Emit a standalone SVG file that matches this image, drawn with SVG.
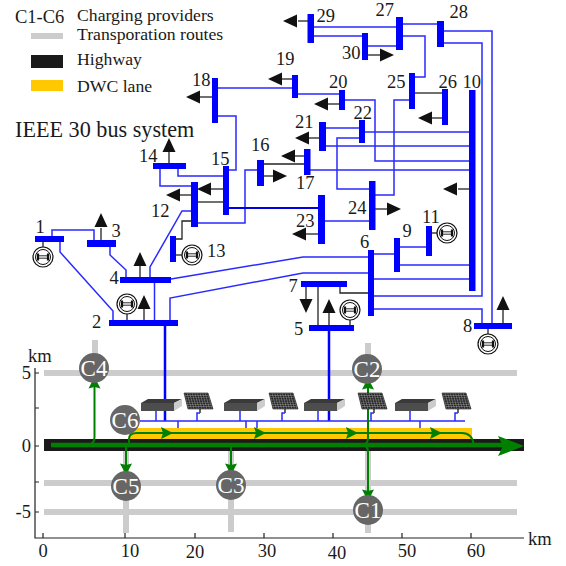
<svg xmlns="http://www.w3.org/2000/svg" width="566" height="566" viewBox="0 0 566 566">
<style>
text{font-family:"Liberation Serif","Times New Roman",serif;font-size:18.500px;fill:#1a1a1a}
.lg{font-size:17.700px}
.bus{fill:#0000ff}
.ln{fill:none;stroke:#2a2aff;stroke-width:1.5}
.dk{fill:none;stroke:#222;stroke-width:1.3}
.thk{fill:none;stroke:#0000e0;stroke-width:2.2}
.road{fill:#cccccc}
.grn{fill:none;stroke:#008000;stroke-width:2}
.gh{fill:#008000}
.ar{fill:#111}
.cc{fill:#666}
.cl{fill:#fff;font-size:23px;text-anchor:middle}
.ax{fill:none;stroke:#222;stroke-width:1.2}
.m{text-anchor:middle}
.e{text-anchor:end}
</style>
<defs>
<g id="gen">
<circle r="10" fill="#fff" stroke="#111" stroke-width="1.2"/>
<circle r="7.500" fill="none" stroke="#111" stroke-width="1"/>
<path d="M-5-3.500V3.500M5-3.500V3.500" stroke="#111" stroke-width="2.200" fill="none"/>
<path d="M-5-1.200H5M-5 1.200H5" stroke="#111" stroke-width="0.900" fill="none"/>
</g>
<path id="aL" class="ar" d="M0 0L14-6.500V6.500Z"/>
<path id="aR" class="ar" d="M0 0L-14-6.500V6.500Z"/>
<path id="aU" class="ar" d="M0 0L-6.500 14H6.500Z"/>
<path id="aD" class="ar" d="M0 0L-6.500-14H6.500Z"/>
<path id="gR" class="gh" d="M0 0L-12-6L-10 0L-12 6Z"/>
<path id="gU" class="gh" d="M0 0L-6 11.500L0 10L6 11.500Z"/>
<path id="gD" class="gh" d="M0 0L-6-11.500L0-10L6-11.500Z"/>
<pattern id="cell" width="2.600" height="2.200" patternUnits="userSpaceOnUse" patternTransform="skewX(15)">
<rect width="2.600" height="2.200" fill="#222"/>
<path d="M0 .3H2.600M.5 0V2.200" stroke="#999" stroke-width=".5"/>
</pattern>
<g id="box">
<path d="M0 4L7 0H41L33 4Z" fill="#3a3a3a"/>
<rect y="4" width="33" height="8" fill="#4d4d4d"/>
<path d="M33 4L41 0V7L33 12Z" fill="#cccccc"/>
</g>
<g id="pv">
<path d="M0 0H24L29 16H4Z" fill="url(#cell)" stroke="#111" stroke-width=".6"/>
<path d="M16 16V20" stroke="#111" stroke-width="1.300" fill="none"/>
<path d="M16 20H13V28" stroke="#2a2aff" stroke-width="1.500" fill="none"/>
</g>
</defs>

<g id="legend">
<text x="15" y="23">C1-C6</text>
<text x="77" y="21" class="lg">Charging providers</text>
<rect x="31" y="33" width="32" height="6" class="road"/>
<text x="77" y="40" class="lg">Transporation routes</text>
<rect x="31" y="55" width="32" height="13" fill="#1a1a1a"/>
<text x="77" y="65" class="lg">Highway</text>
<rect x="31" y="80" width="32" height="11" fill="#ffc800"/>
<text x="77" y="92" class="lg">DWC lane</text>
<text x="15" y="137" style="font-size:22.200px">IEEE 30 bus system</text>
</g>

<g id="roads">
<rect x="44" y="370" width="473" height="6" class="road"/>
<rect x="44" y="480" width="473" height="6" class="road"/>
<rect x="44" y="509" width="473" height="6" class="road"/>
<rect x="92" y="340" width="6" height="30" class="road"/>
<rect x="123" y="450" width="6" height="83" class="road"/>
<rect x="228" y="450" width="6" height="82" class="road"/>
<rect x="365" y="343" width="6" height="30" class="road"/>
<rect x="365" y="450" width="6" height="83" class="road"/>
<rect x="44" y="439" width="480" height="12" fill="#1a1a1a"/>
<rect x="129" y="428" width="343" height="11" fill="#ffc800"/>
</g>

<g id="axes">
<path class="ax" d="M35 368V538H524"/>
<path class="ax" d="M35 373H39M35 408H39M35 446H39M35 482H39M35 512H39M43 533V538M125 533V538M195 533V538M264 533V538M333 533V538M402 533V538M471 533V538"/>
<text x="28" y="362">km</text>
<text x="31" y="379" class="e">5</text>
<text x="31" y="452" class="e">0</text>
<text x="31" y="518" class="e">-5</text>
<text x="43" y="557" class="m">0</text>
<text x="130" y="557" class="m">10</text>
<text x="195" y="558" class="m">20</text>
<text x="267" y="557" class="m">30</text>
<text x="337" y="559" class="m">40</text>
<text x="407" y="557" class="m">50</text>
<text x="476" y="557" class="m">60</text>
<text x="528" y="545">km</text>
</g>

<g id="connectors">
<path class="ln" d="M52 236V230H94V240"/>
<path class="ln" d="M60 242V252L113 311V320"/>
<path class="ln" d="M110 247V255L126 270V277"/>
<path class="ln" d="M150 277V267L182 211H191"/>
<path class="ln" d="M154.500 283V320"/>
<path class="ln" d="M171 279L303 257H368"/>
<path class="ln" d="M170 320V298L303 273H368"/>
<path class="dk" d="M191 221H182V239H176"/>
<path class="ln" d="M160 169V186H191"/>
<path class="ln" d="M178 169V176H223"/>
<path class="ln" d="M229 170H236V116H218"/>
<path class="dk" d="M198 202H223"/>
<path class="ln" d="M198 223H245V170H257"/>
<path class="thk" d="M229 208H318"/>
<path class="dk" d="M264 164H304"/>
<path class="ln" d="M310 170H469"/>
<path class="ln" d="M345 100H375V161H469"/>
<path class="ln" d="M298 94H339"/>
<path class="ln" d="M218 88H292"/>
<path class="ln" d="M326 128H359"/>
<path class="ln" d="M365 132H469"/>
<path class="ln" d="M326 146H469"/>
<path class="ln" d="M359 138H337V189H369"/>
<path class="ln" d="M409 100H394V195H375"/>
<path class="dk" d="M415 93H442"/>
<path class="ln" d="M415 77H425V36H403"/>
<path class="ln" d="M403 24H437"/>
<path class="ln" d="M314 27H396"/>
<path class="ln" d="M314 36H362"/>
<path class="ln" d="M368 46H396"/>
<path class="ln" d="M444 31H492V323"/>
<path class="ln" d="M444 43H482V296H374"/>
<path class="ln" d="M325 221H369"/>
<path class="ln" d="M374 254H394"/>
<path class="ln" d="M400 247H426"/>
<path class="ln" d="M400 265H469"/>
<path class="ln" d="M374 279H469"/>
<path class="ln" d="M374 309H482V323"/>
<path class="dk" d="M340 287V293H371"/>
<path class="dk" d="M318 287V325"/>
<path d="M165 326V421M329 331V421" fill="none" stroke="#0000ff" stroke-width="2.500"/>
<path class="ln" d="M140 421H465M156 411V421M240 411V421M318 411V421M410 411V421M178 421V428M246 421V428M257 421V428M420 421V428"/>
<path class="grn" d="M129 445V439Q129 433 137 433H462Q472 433 474 445"/>
<path class="grn" d="M88 445Q94.500 444 94.500 437V385"/>
<path class="grn" d="M126 445V466M231 445V466"/>
<path class="grn" d="M363 445Q368 444 368 438V387M363 445Q368 446 368 452V492"/>
<path d="M51 445H504" fill="none" stroke="#008000" stroke-width="4.500"/>
<use href="#gU" x="94.500" y="377"/>
<use href="#gD" x="126" y="475"/>
<use href="#gD" x="231" y="475"/>
<use href="#gU" x="368" y="378"/>
<use href="#gD" x="368" y="501"/>
<use href="#gR" x="173" y="433"/>
<use href="#gR" x="266" y="433"/>
<use href="#gR" x="358" y="433"/>
<use href="#gR" x="442" y="433"/>
<path class="gh" d="M524 446L498 436L503 446L498 456Z"/>
</g>

<g id="bus1"><path class="dk" d="M43 242V247"/><rect x="35" y="236" width="29" height="6" class="bus"/><use href="#gen" x="43" y="257"/><text x="35.500" y="233">1</text></g>
<g id="bus2"><path class="dk" d="M127 314V320M144 308V320"/><rect x="109" y="320" width="69" height="6" class="bus"/><use href="#gen" x="127" y="304"/><use href="#aU" x="144" y="295"/><text x="92" y="328">2</text></g>
<g id="bus3"><path class="dk" d="M101 228V240"/><rect x="87" y="240" width="29" height="7" class="bus"/><use href="#aU" x="101" y="213"/><text x="111.500" y="237">3</text></g>
<g id="bus4"><path class="dk" d="M140 265V277"/><rect x="120" y="277" width="51" height="6" class="bus"/><use href="#aU" x="140" y="252"/><text x="109.500" y="284">4</text></g>
<g id="bus5"><path class="dk" d="M329 312V325M350 320V325"/><rect x="309" y="325" width="45" height="6" class="bus"/><use href="#aU" x="329" y="299"/><use href="#gen" x="350" y="310"/><text x="294" y="335">5</text></g>
<g id="bus6"><rect x="368" y="250" width="6" height="66" class="bus"/><text x="360" y="248">6</text></g>
<g id="bus7"><path class="dk" d="M306 287V300"/><rect x="301" y="281" width="46" height="6" class="bus"/><use href="#aD" x="306" y="313"/><text x="288.500" y="292">7</text></g>
<g id="bus8"><path class="dk" d="M503 309V323M488 329V334"/><rect x="474" y="323" width="38" height="6" class="bus"/><use href="#aU" x="503" y="296"/><use href="#gen" x="488" y="344"/><text x="463" y="332">8</text></g>
<g id="bus9"><rect x="394" y="238" width="6" height="34" class="bus"/><text x="402.500" y="237">9</text></g>
<g id="bus10"><path class="dk" d="M458 189H469"/><rect x="469" y="90" width="6.500" height="201" class="bus"/><use href="#aL" x="443" y="189"/><text x="462.500" y="88">10</text></g>
<g id="bus11"><path class="dk" d="M432 233H437"/><rect x="426" y="226" width="6" height="30" class="bus"/><use href="#gen" x="447" y="233"/><text x="422" y="223">11</text></g>
<g id="bus12"><path class="dk" d="M179 195H191"/><rect x="191" y="182" width="7" height="45" class="bus"/><use href="#aL" x="166" y="195"/><text x="151" y="217">12</text></g>
<g id="bus13"><path class="dk" d="M176 255H182"/><rect x="170" y="236" width="6" height="26" class="bus"/><use href="#gen" x="192" y="255"/><text x="207" y="257">13</text></g>
<g id="bus14"><path class="dk" d="M169 151V163"/><rect x="153" y="163" width="33" height="6" class="bus"/><use href="#aU" x="169" y="138"/><text x="139" y="162">14</text></g>
<g id="bus15"><path class="dk" d="M211 189H223"/><rect x="223" y="166" width="6" height="49" class="bus"/><use href="#aL" x="197" y="189"/><text x="211" y="165">15</text></g>
<g id="bus16"><path class="dk" d="M264 176H273"/><rect x="257" y="160" width="7" height="26" class="bus"/><use href="#aR" x="287" y="176"/><text x="251" y="151">16</text></g>
<g id="bus17"><path class="dk" d="M295 156H304"/><rect x="304" y="149" width="6.500" height="26" class="bus"/><use href="#aL" x="281" y="156"/><text x="296" y="189">17</text></g>
<g id="bus18"><path class="dk" d="M200 97H212"/><rect x="212" y="78" width="6" height="45" class="bus"/><use href="#aL" x="186" y="97"/><text x="192" y="86">18</text></g>
<g id="bus19"><path class="dk" d="M282 79H292"/><rect x="292" y="75" width="6" height="23" class="bus"/><use href="#aL" x="268" y="79"/><text x="276" y="65">19</text></g>
<g id="bus20"><path class="dk" d="M328 104H339"/><rect x="339" y="90" width="6" height="20" class="bus"/><use href="#aL" x="314" y="104"/><text x="329" y="88">20</text></g>
<g id="bus21"><path class="dk" d="M309 138H319"/><rect x="319" y="122" width="7" height="29" class="bus"/><use href="#aL" x="295" y="138"/><text x="295" y="128">21</text></g>
<g id="bus22"><rect x="359" y="120" width="6" height="23" class="bus"/><text x="353.500" y="119">22</text></g>
<g id="bus23"><path class="dk" d="M306 234H318"/><rect x="318" y="195" width="7" height="49" class="bus"/><use href="#aL" x="292" y="234"/><text x="296" y="227">23</text></g>
<g id="bus24"><path class="dk" d="M375 209H387"/><rect x="369" y="181" width="6.500" height="49" class="bus"/><use href="#aR" x="401" y="209"/><text x="348" y="214">24</text></g>
<g id="bus25"><rect x="409" y="73" width="6" height="36" class="bus"/><text x="387" y="88">25</text></g>
<g id="bus26"><path class="dk" d="M432 118H442"/><rect x="442" y="89" width="6" height="36" class="bus"/><use href="#aL" x="418" y="118"/><text x="438.500" y="88">26</text></g>
<g id="bus27"><rect x="396" y="17" width="7" height="33" class="bus"/><text x="375.500" y="16">27</text></g>
<g id="bus28"><rect x="437" y="21" width="7" height="26" class="bus"/><text x="449.500" y="18">28</text></g>
<g id="bus29"><path class="dk" d="M298 21H308"/><rect x="307.500" y="14" width="6.500" height="29" class="bus"/><use href="#aL" x="283" y="21"/><text x="316.500" y="22">29</text></g>
<g id="bus30"><path class="dk" d="M368 55H381"/><rect x="362" y="33" width="6" height="27" class="bus"/><use href="#aR" x="394" y="55"/><text x="342" y="59">30</text></g>

<g id="box1"><use href="#box" x="141" y="399"/></g>
<g id="box2"><use href="#box" x="224" y="399"/></g>
<g id="box3"><use href="#box" x="304" y="399"/></g>
<g id="box4"><use href="#box" x="395" y="399"/></g>
<g id="pv1"><use href="#pv" x="184" y="393"/></g>
<g id="pv2"><use href="#pv" x="269" y="393"/></g>
<g id="pv3"><use href="#pv" x="358" y="393"/></g>
<g id="pv4"><use href="#pv" x="442" y="393"/></g>

<g id="C1"><circle cx="368" cy="510" r="15" class="cc"/><text x="368" y="518" class="cl">C1</text></g>
<g id="C2"><circle cx="367" cy="369" r="15" class="cc"/><text x="367" y="377" class="cl">C2</text></g>
<g id="C3"><circle cx="231" cy="485" r="15" class="cc"/><text x="231" y="493" class="cl">C3</text></g>
<g id="C4"><circle cx="94" cy="368" r="15" class="cc"/><text x="94" y="376" class="cl">C4</text></g>
<g id="C5"><circle cx="126" cy="486" r="15" class="cc"/><text x="126" y="494" class="cl">C5</text></g>
<g id="C6"><circle cx="125" cy="420" r="15" class="cc"/><text x="125" y="428" class="cl">C6</text></g>
</svg>
